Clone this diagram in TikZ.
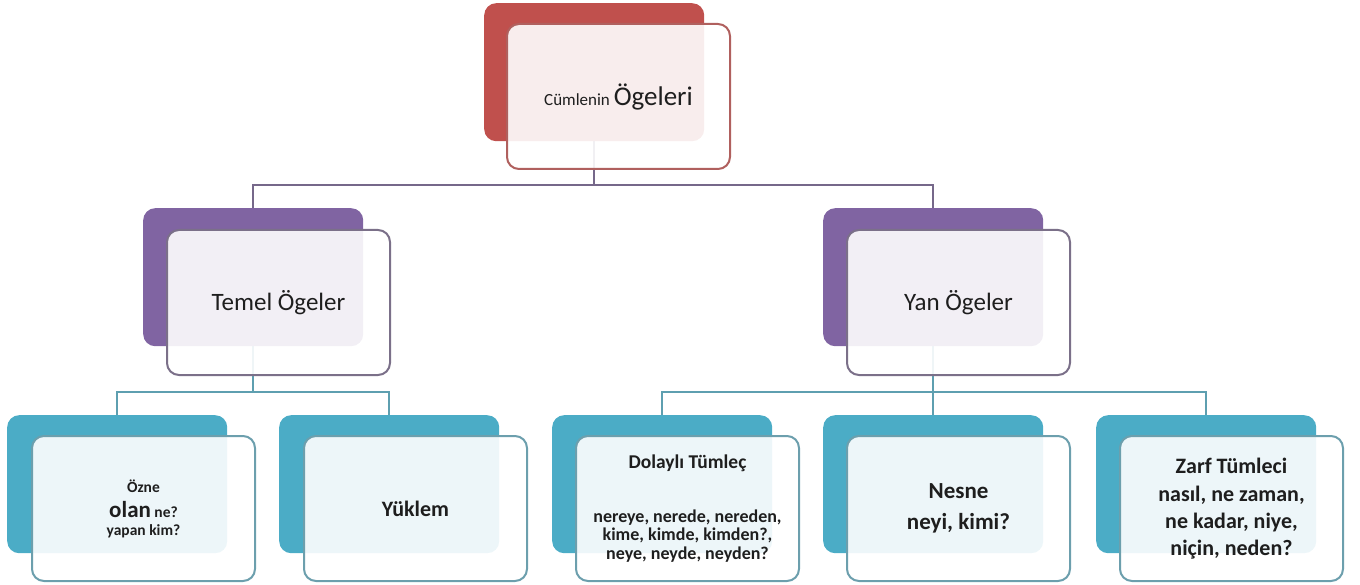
\documentclass[tikz,border=0pt]{standalone}
\usepackage{fontspec}
\setmainfont{Carlito}
\pgfdeclarelayer{bg}
\pgfsetlayers{bg,main}
\definecolor{redback}{HTML}{C0504D}
\definecolor{purpback}{HTML}{8064A2}
\definecolor{tealback}{HTML}{4BACC6}
\definecolor{redline}{HTML}{B0605E}
\definecolor{purpline}{HTML}{7B7089}
\definecolor{tealline}{HTML}{6C9FAD}
\definecolor{topconn}{HTML}{76688A}
\definecolor{lowconn}{HTML}{5E9FB0}
\definecolor{txt}{HTML}{1E1E1E}
\tikzset{
  backbox/.style={rounded corners=12pt, minimum width=220pt, minimum height=138pt,
    inner sep=0pt, anchor=north west},
  frontbox/.style={rounded corners=12pt, minimum width=223pt, minimum height=145pt,
    fill=white, fill opacity=0.9, text opacity=1, line width=2pt, anchor=north west,
    align=center, inner sep=0pt, text=txt},
  conntop/.style={draw=topconn, line width=2pt},
  connlow/.style={draw=lowconn, line width=2pt},
}
\begin{document}
\begin{tikzpicture}[x=1pt,y=-1pt]
\useasboundingbox (0,0) rectangle (1360,585);
% back boxes
\node[backbox, fill=redback] (topb) at (484,3) {};
\node[backbox, fill=purpback] (temb) at (143,208) {};
\node[backbox, fill=purpback] (yanb) at (823,208) {};
\node[backbox, fill=tealback] (oznb) at (7,415) {};
\node[backbox, fill=tealback] (yukb) at (279,415) {};
\node[backbox, fill=tealback] (dolb) at (552,415) {};
\node[backbox, fill=tealback] (nesb) at (823,415) {};
\node[backbox, fill=tealback] (zarb) at (1096,415) {};
% front boxes
\node[frontbox, draw=redline, font=\fontsize{17}{20}\selectfont] (topf) at (506,23)
  {Cümlenin {\fontsize{27}{30}\selectfont Ögeleri}};
\node[frontbox, draw=purpline, font=\fontsize{25}{30}\selectfont] (temf) at (166,229)
  {Temel Ögeler};
\node[frontbox, draw=purpline, font=\fontsize{25}{30}\selectfont] (yanf) at (846,229)
  {Yan Ögeler};
\node[frontbox, draw=tealline, font=\bfseries\fontsize{15.5}{18}\selectfont] (oznf) at (31,435)
  {Özne\\[7pt]
   {\fontsize{23}{24}\selectfont olan} ne?\\ yapan kim?};
\node[frontbox, draw=tealline, font=\bfseries\fontsize{22}{26}\selectfont] (yukf) at (303,435)
  {Yüklem};
\node[frontbox, draw=tealline, font=\bfseries\fontsize{18}{18.5}\selectfont] (dolf) at (575,435)
  {{\fontsize{19.5}{20}\selectfont Dolaylı Tümleç}\\[35pt]
   nereye, nerede, nereden,\\ kime, kimde, kimden?,\\ neye, neyde, neyden?};
\node[frontbox, draw=tealline, font=\bfseries\fontsize{23}{31}\selectfont] (nesf) at (846,435)
  {Nesne\\ neyi, kimi?};
\node[frontbox, draw=tealline, font=\bfseries\fontsize{22}{27}\selectfont] (zarf) at (1119,435)
  {Zarf Tümleci\\[1pt] nasıl, ne zaman,\\ ne kadar, niye,\\ niçin, neden?};
% connectors
\coordinate (h1) at (0,185);
\coordinate (h2) at (0,392);
\begin{pgfonlayer}{bg}
\coordinate (j1) at (topb.south |- h1);
\coordinate (j2) at (temb.south |- h2);
\coordinate (j3) at (yanb.south |- h2);
\draw[conntop] (topb.south) -- (j1);
\draw[conntop] (j1) -| (temb.north);
\draw[conntop] (j1) -| (yanb.north);
\draw[connlow] (temb.south) -- (j2);
\draw[connlow] (j2) -| (oznb.north);
\draw[connlow] (j2) -| (yukb.north);
\draw[connlow] (yanb.south) -- (j3);
\draw[connlow] (j3) -| (dolb.north);
\draw[connlow] (j3) -| (nesb.north);
\draw[connlow] (j3) -| (zarb.north);
\end{pgfonlayer}
\end{tikzpicture}
\end{document}
